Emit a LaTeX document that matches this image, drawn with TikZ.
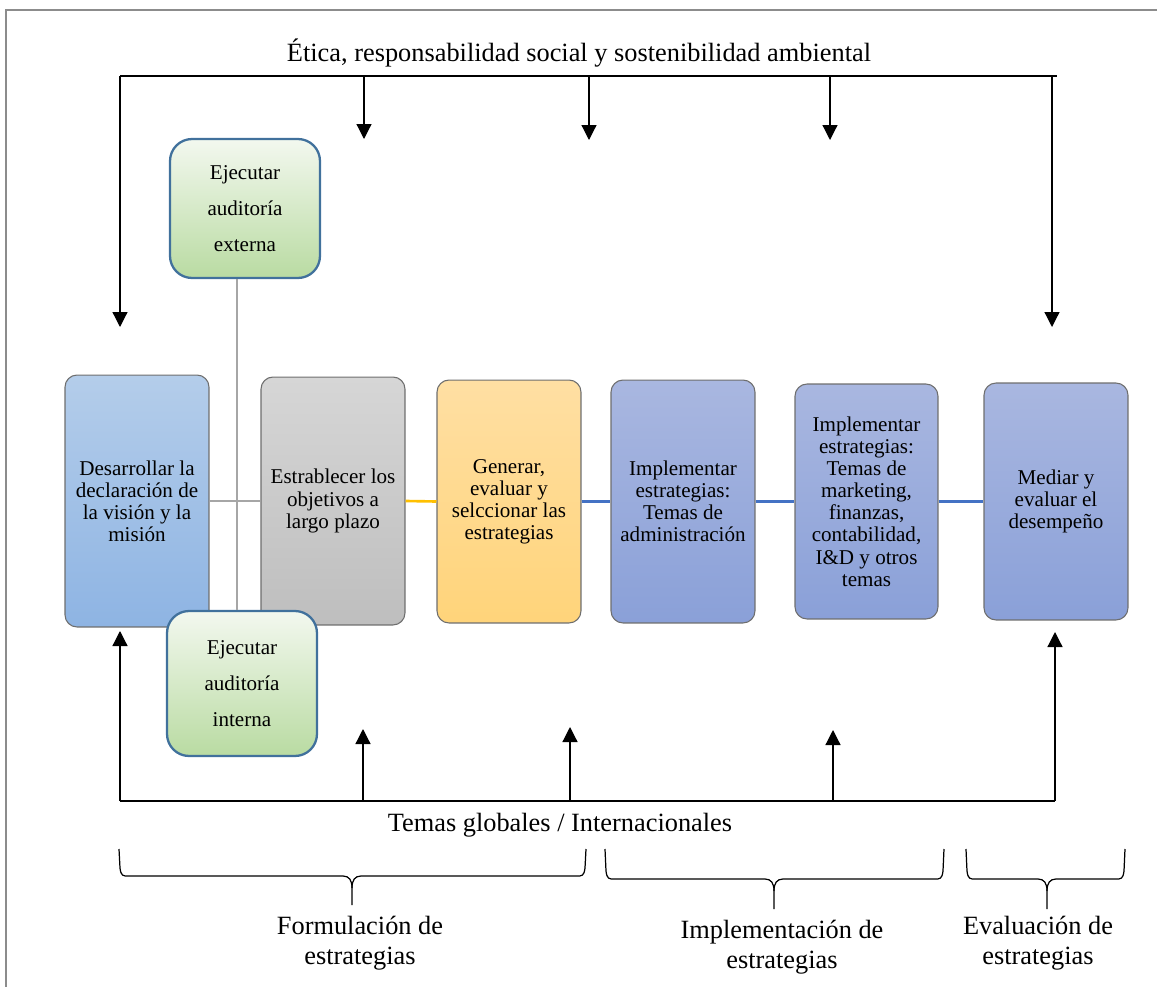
\documentclass[tikz,border=0pt]{standalone}
\usepackage{fontspec}
\setmainfont{Liberation Serif}
\usetikzlibrary{arrows.meta}

\definecolor{frameGray}{HTML}{8C8C8C}
\definecolor{edgeGray}{HTML}{6E6E6E}
\definecolor{linkGray}{HTML}{A6A6A6}
\definecolor{linkOrange}{HTML}{FFC000}
\definecolor{linkBlue}{HTML}{4472C4}
\definecolor{greenEdge}{HTML}{41719C}
\definecolor{blueTop}{HTML}{B4CDEA}
\definecolor{blueBot}{HTML}{8EB4E3}
\definecolor{grayTop}{HTML}{D6D6D6}
\definecolor{grayBot}{HTML}{BEBEBE}
\definecolor{orangeTop}{HTML}{FFDFA3}
\definecolor{orangeBot}{HTML}{FFD47A}
\definecolor{violetTop}{HTML}{A9B7E0}
\definecolor{violetBot}{HTML}{8AA0D8}
\definecolor{greenTop}{HTML}{F3F8EF}
\definecolor{greenBot}{HTML}{B9DBA2}

% draws a downward curly brace: left x, right x, centre x, top y, bar y, tip y
\newcommand\curlybrace[6]{%
  \draw[bracket] (#1,#4) -- ({#1+1},{#5-8})
    .. controls ({#1+2},#5) and ({#1+4},#5) .. ({#1+9},#5)
    -- ({#3-9},#5) .. controls ({#3-3},#5) and (#3,{#5+4}) .. (#3,{#5+12})
    -- (#3,#6);
  \draw[bracket] (#2,#4) -- ({#2-1},{#5-8})
    .. controls ({#2-2},#5) and ({#2-4},#5) .. ({#2-9},#5)
    -- ({#3+9},#5) .. controls ({#3+3},#5) and (#3,{#5+4}) .. (#3,{#5+12});
}

\begin{document}
\begin{tikzpicture}[x=0.02cm,y=-0.02cm,
  stagebox/.style={draw=edgeGray,line width=0.6pt,rounded corners=0.24cm,
    minimum width=2.88cm,align=center,inner sep=2pt,
    font=\fontsize{12}{12.6}\selectfont},
  auditbox/.style={draw=greenEdge,line width=1.3pt,rounded corners=0.44cm,
    minimum width=3cm,align=center,top color=greenTop,bottom color=greenBot,
    font=\fontsize{12}{20.5}\selectfont},
  link/.style={line width=1.5pt},
  flow/.style={line width=0.7pt,black},
  flowarrow/.style={flow,-{Triangle[width=0.3cm,length=0.3cm]}},
  bracket/.style={line width=0.7pt,black},
  caption/.style={font=\fontsize{15}{17}\selectfont,align=center}]

\useasboundingbox (0,0) rectangle (1157,987);

% outer frame (top and left edges)
\draw[frameGray,line width=0.6pt] (6,987) -- (6,10) -- (1157,10);

% headings
\node[caption] (etica) at (579,53) {Ética, responsabilidad social y sostenibilidad ambiental};
\node[caption] (global) at (560,825) {Temas globales / Internacionales};

% stage boxes
\node[stagebox,minimum height=5.04cm,top color=blueTop,bottom color=blueBot] (b1) at (137,501)
  {Desarrollar la\\declaración de\\la visión y la\\misión};
\node[stagebox,minimum height=4.96cm,top color=grayTop,bottom color=grayBot] (b2) at (333,501)
  {Estrablecer los\\objetivos a\\largo plazo};
\node[stagebox,minimum height=4.86cm,top color=orangeTop,bottom color=orangeBot] (b3) at (509,501.5)
  {Generar,\\evaluar y\\selccionar las\\estrategias};
\node[stagebox,minimum height=4.86cm,top color=violetTop,bottom color=violetBot] (b4) at (683,501.5)
  {Implementar\\estrategias:\\Temas de\\administración};
\node[stagebox,minimum width=2.86cm,minimum height=4.7cm,top color=violetTop,bottom color=violetBot] (b5) at (866.5,501.5)
  {Implementar\\estrategias:\\Temas de\\marketing,\\finanzas,\\contabilidad,\\I\&D y otros\\temas};
\node[stagebox,minimum height=4.74cm,top color=violetTop,bottom color=violetBot] (b6) at (1056,501.5)
  {Mediar y\\evaluar el\\desempeño};

% audit boxes
\node[auditbox,minimum height=2.78cm] (ext) at (245,208.5) {Ejecutar\\auditoría\\externa};
\node[auditbox,minimum height=2.9cm] (int) at (242,683.5) {Ejecutar\\auditoría\\interna};

% links between the stages
\coordinate (vx) at (237,0);
\draw[link,draw=linkGray] (ext.south -| vx) -- (int.north -| vx);
\draw[link,draw=linkGray] (b1.east) -- (b2.west);
\draw[link,draw=linkOrange] (b2.east) -- (b3.west);
\draw[link,draw=linkBlue] (b3.east) -- (b4.west);
\draw[link,draw=linkBlue] (b4.east) -- (b5.west);
\draw[link,draw=linkBlue] (b5.east) -- (b6.west);

% ethics bar with its arrows
\coordinate (tl) at (120,76);
\coordinate (tr) at (1057,76);
\coordinate (t1) at (120,327);
\coordinate (t2s) at (364,76);  \coordinate (t2) at (364,139);
\coordinate (t3s) at (589,76);  \coordinate (t3) at (589,140);
\coordinate (t4s) at (830,76);  \coordinate (t4) at (830,140);
\coordinate (t5s) at (1052,76); \coordinate (t5) at (1052,327);
\draw[flow] (tl) -- (tr);
\draw[flowarrow] (tl) -- (t1);
\draw[flowarrow] (t2s) -- (t2);
\draw[flowarrow] (t3s) -- (t3);
\draw[flowarrow] (t4s) -- (t4);
\draw[flowarrow] (t5s) -- (t5);

% global issues bar with its arrows
\coordinate (bl) at (120,801);
\coordinate (br) at (1055,801);
\coordinate (u1) at (120,631);
\coordinate (u2s) at (363,801); \coordinate (u2) at (363,729);
\coordinate (u3s) at (570,801); \coordinate (u3) at (570,727);
\coordinate (u4s) at (833,801); \coordinate (u4) at (833,730);
\coordinate (u5) at (1055,632);
\draw[flow] (bl) -- (br);
\draw[flowarrow] (bl) -- (u1);
\draw[flowarrow] (u2s) -- (u2);
\draw[flowarrow] (u3s) -- (u3);
\draw[flowarrow] (u4s) -- (u4);
\draw[flowarrow] (br) -- (u5);

% phase braces and their labels
\curlybrace{119}{586}{352}{849}{876}{905}
\curlybrace{605}{944}{774}{849}{879}{909}
\curlybrace{966}{1125}{1047}{849}{879}{909}
\node[caption] (formul) at (360,943) {Formulación de\\estrategias};
\node[caption] (implem) at (782,947) {Implementación de\\estrategias};
\node[caption] (evalua) at (1038,943) {Evaluación de\\estrategias};

\end{tikzpicture}
\end{document}
